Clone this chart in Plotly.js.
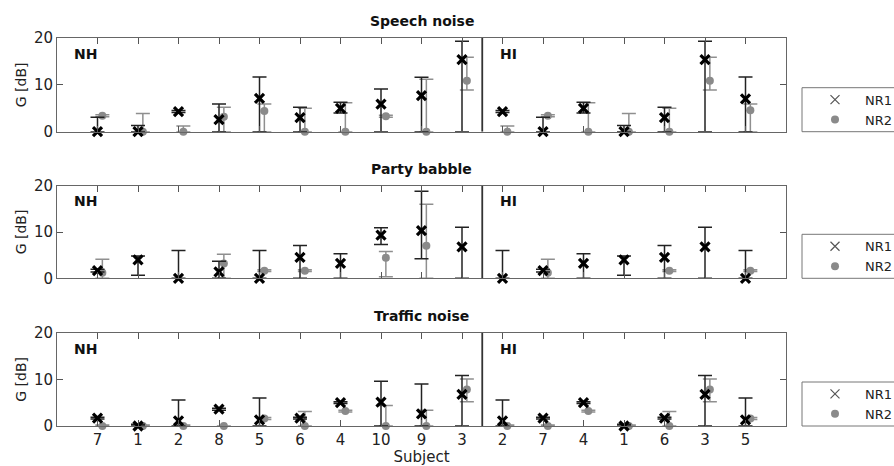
<!DOCTYPE html>
<html>
<head>
<meta charset="utf-8">
<script src="https://cdn.plot.ly/plotly-3.0.1.min.js"></script>
<style>html,body{margin:0;padding:0;background:#fff;}#chart{width:894px;height:466px;}</style>
</head>
<body>
<div id="chart"></div>
<script>
// Tick labels (subject numbers), NH group then HI group
const subjects = ['7','1','2','8','5','6','4','10','9','3','2','7','4','1','6','3','5'];
const panelTitles = ['Speech noise', 'Party babble', 'Traffic noise'];

// Speech noise
const speechNR1      = [0, 0, 4.3, 2.6, 7.1, 3.0, 5.0, 5.9, 7.7, 15.4,  4.3, 0, 5.0, 0, 3.0, 15.4, 7.0];
const speechNR1Up    = [3.1, 1.3, 0.2, 3.3, 4.6, 2.2, 1.3, 3.2, 3.9, 3.9,  0.2, 3.1, 1.3, 1.3, 2.2, 3.9, 4.7];
const speechNR1Down  = [0, 0, 0.2, 2.6, 7.1, 3.0, 1.0, 5.9, 7.7, 15.4,  0.2, 0, 1.0, 0, 3.0, 15.4, 7.0];
const speechNR2      = [3.4, 0, 0, 3.2, 4.4, 0, 0, 3.3, 0, 10.9,  0, 3.4, 0, 0, 0, 10.9, 4.6];
const speechNR2Up    = [0.2, 3.9, 1.2, 2.0, 1.5, 5.0, 6.2, 0.2, 11.2, 5.0,  1.2, 0.2, 6.2, 3.9, 5.0, 5.0, 1.3];
const speechNR2Down  = [0.2, 0, 0, 3.2, 4.4, 0, 0, 0.2, 0, 2.0,  0, 0.2, 0, 0, 0, 2.0, 4.6];

// Party babble (null = no NR2 mark visible)
const partyNR1       = [1.65, 4.0, 0, 1.4, 0, 4.5, 3.2, 9.35, 10.3, 6.8,  0, 1.65, 3.2, 4.0, 4.5, 6.8, 0];
const partyNR1Up     = [0.3, 0.8, 6.0, 2.3, 6.0, 2.6, 2.1, 1.55, 8.5, 4.2,  6.0, 0.3, 2.1, 0.8, 2.6, 4.2, 6.0];
const partyNR1Down   = [0.3, 3.35, 0, 1.4, 0, 4.5, 3.2, 2.05, 6.1, 6.8,  0, 0.3, 3.2, 3.35, 4.5, 6.8, 0];
const partyNR2       = [1.2, null, null, 3.2, 1.65, 1.65, null, 4.45, 7.05, null,  null, 1.2, null, null, 1.65, null, 1.65];
const partyNR2Up     = [2.9, 0, 0, 2.0, 0.2, 0.2, 0, 1.35, 8.95, 0,  0, 2.9, 0, 0, 0.2, 0, 0.2];
const partyNR2Down   = [1.2, 0, 0, 3.2, 0.2, 0.2, 0, 4.1, 7.05, 0,  0, 1.2, 0, 0, 0.2, 0, 0.2];

// Traffic noise
const trafficNR1     = [1.7, 0, 1.1, 3.6, 1.3, 1.7, 5.0, 5.1, 2.6, 6.8,  1.1, 1.7, 5.0, 0, 1.7, 6.8, 1.3];
const trafficNR1Up   = [0.2, 0.4, 4.5, 0.2, 4.7, 0.2, 0.2, 4.5, 6.4, 4.0,  4.5, 0.2, 0.2, 0.4, 0.2, 4.0, 4.7];
const trafficNR1Down = [0.2, 0, 1.1, 0.2, 1.3, 0.2, 0.2, 5.1, 2.6, 6.8,  1.1, 0.2, 0.2, 0, 0.2, 6.8, 1.3];
const trafficNR2     = [0, 0, 0, 0, 1.6, 0, 3.2, 0, 0, 7.8,  0, 0, 3.2, 0, 0, 7.8, 1.6];
const trafficNR2Up   = [0.2, 0.2, 0.2, 0, 0.2, 3.1, 0.2, 4.4, 3.4, 2.3,  0.2, 0.2, 0.2, 0.2, 3.1, 2.3, 0.2];
const trafficNR2Down = [0, 0, 0, 0, 0.2, 0, 0.2, 0, 0, 2.6,  0, 0, 0.2, 0, 0, 2.6, 0.2];

const seriesNames = ['NR1', 'NR2'];

const panels = [
  {nr1: speechNR1, nr1u: speechNR1Up, nr1d: speechNR1Down, nr2: speechNR2, nr2u: speechNR2Up, nr2d: speechNR2Down},
  {nr1: partyNR1, nr1u: partyNR1Up, nr1d: partyNR1Down, nr2: partyNR2, nr2u: partyNR2Up, nr2d: partyNR2Down},
  {nr1: trafficNR1, nr1u: trafficNR1Up, nr1d: trafficNR1Down, nr2: trafficNR2, nr2u: trafficNR2Up, nr2d: trafficNR2Down}
];

const pos = subjects.map((s, i) => i + 1);
const posShift = pos.map(p => p + 0.12);

const FONT = 'DejaVu Sans, sans-serif';
const W = 894, H = 466;
const ML = 57, MR = 108;
const PW = W - ML - MR;
const px2y = v => 1 - v / H;
const px2x = v => (v - ML) / PW;
const bottomsPx = [131.7, 278.3, 426];
const topsPx = [38, 185.7, 332.7];
const domains = bottomsPx.map((b, k) => [px2y(b), px2y(topsPx[k])]);
const legendNames = ['legend', 'legend2', 'legend3'];

const data = [];
const layout = {
  width: W, height: H,
  margin: {l: ML, r: MR, t: 0, b: 0, autoexpand: false},
  paper_bgcolor: '#fff', plot_bgcolor: '#fff',
  font: {family: FONT, size: 14, color: '#222'},
  showlegend: true,
  shapes: [], annotations: []
};

panels.forEach((p, k) => {
  const xa = k === 0 ? 'x' : 'x' + (k + 1);
  const ya = k === 0 ? 'y' : 'y' + (k + 1);
  data.push({
    type: 'scatter', mode: 'markers', xaxis: xa, yaxis: ya, x: posShift, y: p.nr2,
    marker: {symbol: 'circle', size: 8, color: '#8a8a8a'},
    error_y: {type: 'data', symmetric: false, array: p.nr2u, arrayminus: p.nr2d, color: '#8f8f8f', thickness: 1.5, width: 7},
    showlegend: false, cliponaxis: false, hoverinfo: 'skip'
  });
  data.push({
    type: 'scatter', mode: 'markers', xaxis: xa, yaxis: ya, x: pos, y: p.nr1,
    marker: {symbol: 'x-thin', size: 9, color: '#000', line: {color: '#000', width: 3.2}},
    error_y: {type: 'data', symmetric: false, array: p.nr1u, arrayminus: p.nr1d, color: '#222', thickness: 1.5, width: 7},
    showlegend: false, cliponaxis: false, hoverinfo: 'skip'
  });
  data.push({type: 'scatter', mode: 'markers', xaxis: xa, yaxis: ya, x: [null], y: [null], name: seriesNames[0],
    legend: legendNames[k], marker: {symbol: 'x-thin', size: 9, color: '#555', line: {color: '#555', width: 1.2}}});
  data.push({type: 'scatter', mode: 'markers', xaxis: xa, yaxis: ya, x: [null], y: [null], name: seriesNames[1],
    legend: legendNames[k], marker: {symbol: 'circle', size: 8, color: '#8a8a8a'}});

  const axx = {
    domain: [0, 1], range: [0, 18], anchor: ya,
    tickmode: 'array', tickvals: pos, ticktext: k === 2 ? subjects : subjects.map(() => ''),
    ticks: 'inside', ticklen: 6, tickwidth: 1, tickcolor: '#555',
    showline: true, linecolor: '#666', linewidth: 1, mirror: 'ticks',
    showgrid: false, zeroline: false, fixedrange: true,
    tickfont: {family: FONT, size: 15, color: '#222'}, automargin: false
  };
  if (k === 2) axx.title = {text: 'Subject', font: {family: FONT, size: 15, color: '#222'}, standoff: 2};
  const axy = {
    domain: domains[k], range: [0, 20], anchor: xa,
    tickmode: 'array', tickvals: [0, 10, 20],
    ticks: 'inside', ticklen: 6, tickwidth: 1, tickcolor: '#555',
    showline: true, linecolor: '#666', linewidth: 1, mirror: 'ticks',
    showgrid: false, zeroline: false, fixedrange: true,
    tickfont: {family: FONT, size: 15, color: '#222'}, automargin: false,
    title: {text: 'G [dB]', font: {family: FONT, size: 14, color: '#222'}, standoff: 4}
  };
  layout[k === 0 ? 'xaxis' : 'xaxis' + (k + 1)] = axx;
  layout[k === 0 ? 'yaxis' : 'yaxis' + (k + 1)] = axy;

  // legend box drawn as a shape, legend entries from Plotly
  const bpx = bottomsPx[k];
  layout.shapes.push({type: 'rect', xref: 'paper', yref: 'paper',
    x0: px2x(802), x1: px2x(910), y0: px2y(bpx), y1: px2y(bpx - 44),
    line: {color: '#777', width: 1}, fillcolor: 'rgba(0,0,0,0)'});
  layout[legendNames[k]] = {
    x: px2x(805), xanchor: 'left', y: px2y(bpx - 44 - 3), yanchor: 'top',
    borderwidth: 0, bgcolor: 'rgba(0,0,0,0)',
    font: {family: FONT, size: 13, color: '#222'}, itemwidth: 50, tracegroupgap: 0
  };

  layout.shapes.push({type: 'line', xref: xa, yref: ya, x0: 10.5, x1: 10.5, y0: 0, y1: 20,
    line: {color: '#333', width: 1.8}});
  layout.annotations.push({xref: xa, yref: ya, x: 0.36, y: 16.6, xanchor: 'left', yanchor: 'middle',
    text: '<b>NH</b>', showarrow: false, font: {family: FONT, size: 14, color: '#111'}});
  layout.annotations.push({xref: xa, yref: ya, x: 10.9, y: 16.6, xanchor: 'left', yanchor: 'middle',
    text: '<b>HI</b>', showarrow: false, font: {family: FONT, size: 14, color: '#111'}});
  layout.annotations.push({xref: 'paper', yref: 'paper', x: 0.5, y: domains[k][1] + 17 / H,
    xanchor: 'center', yanchor: 'middle', text: '<b>' + panelTitles[k] + '</b>', showarrow: false,
    font: {family: FONT, size: 14, color: '#111'}});
});

Plotly.newPlot('chart', data, layout, {displayModeBar: false, staticPlot: true});
</script>
</body>
</html>
